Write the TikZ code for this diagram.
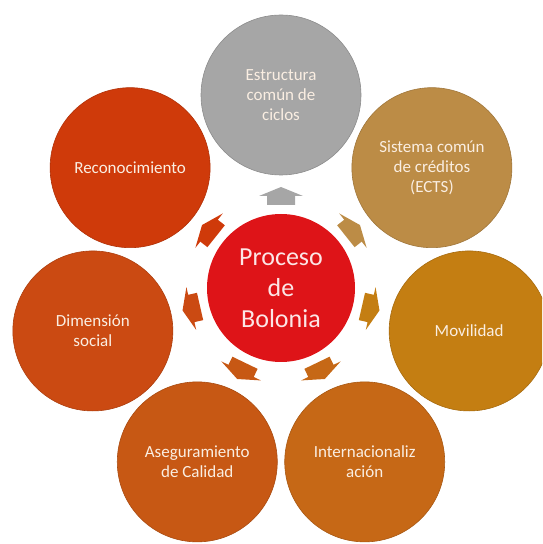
\documentclass[tikz,border=0pt]{standalone}
\usepackage{fontspec}
\setmainfont{Carlito}
\usetikzlibrary{calc}

\definecolor{cCentro}{RGB}{222,20,24}
\definecolor{cGris}{RGB}{166,166,166}
\definecolor{cCreditos}{RGB}{188,140,70}
\definecolor{cMovilidad}{RGB}{196,126,18}
\definecolor{cInter}{RGB}{198,104,22}
\definecolor{cCalidad}{RGB}{199,88,20}
\definecolor{cSocial}{RGB}{203,74,18}
\definecolor{cRecon}{RGB}{207,58,10}
\definecolor{cTexto}{RGB}{250,238,226}
\definecolor{cTextoC}{RGB}{252,230,230}

% block arrow pointing from the hub towards a satellite node
\newcommand\spoke[2]{%
  \pgfmathanglebetweenpoints{\pgfpointanchor{c}{center}}{\pgfpointanchor{#1}{center}}%
  \let\spokeangle\pgfmathresult
  \fill[#2, shift={(c)}, rotate=\spokeangle]
    (83,-14) -- (92,-14) -- (92,-22) -- (101,0) -- (92,22) -- (92,14) -- (83,14) -- cycle;}

\begin{document}
\begin{tikzpicture}[x=1pt,y=1pt,
  hub/.style={circle, fill=cCentro, minimum size=148pt, inner sep=0pt,
    text=cTextoC, font=\fontsize{26}{31}\selectfont, align=center},
  item/.style={circle, fill=#1, draw=#1!85!black, line width=0.6pt,
    minimum size=160pt, inner sep=0pt, text=cTexto,
    font=\fontsize{17}{20}\selectfont, align=center}]
\useasboundingbox (0,0) rectangle (542,544);
\clip (0,0) rectangle (542,544);

\node[hub] (c) at (281,256) {Proceso\\de\\Bolonia};

\node[item=cGris]      (ciclos)  at ($(c)+(90:193)$)      {Estructura\\común de\\ciclos};
\node[item=cCreditos]  (ects)    at ($(c)+(38.57:193)$)   {Sistema común\\de créditos\\(ECTS)};
\node[item=cMovilidad] (movil)   at ($(c)+(-12.86:193)$)  {Movilidad};
\node[item=cInter]     (inter)   at ($(c)+(-64.29:193)$)  {Internacionaliz\\ación};
\node[item=cCalidad]   (calidad) at ($(c)+(-115.71:193)$) {Aseguramiento\\de Calidad};
\node[item=cSocial]    (social)  at ($(c)+(-167.14:193)$) {Dimensión\\social};
\node[item=cRecon]     (recon)   at ($(c)+(141.43:193)$)  {Reconocimiento};

\spoke{ciclos}{cGris}
\spoke{ects}{cCreditos}
\spoke{movil}{cMovilidad}
\spoke{inter}{cInter}
\spoke{calidad}{cCalidad}
\spoke{social}{cSocial}
\spoke{recon}{cRecon}
\end{tikzpicture}
\end{document}
